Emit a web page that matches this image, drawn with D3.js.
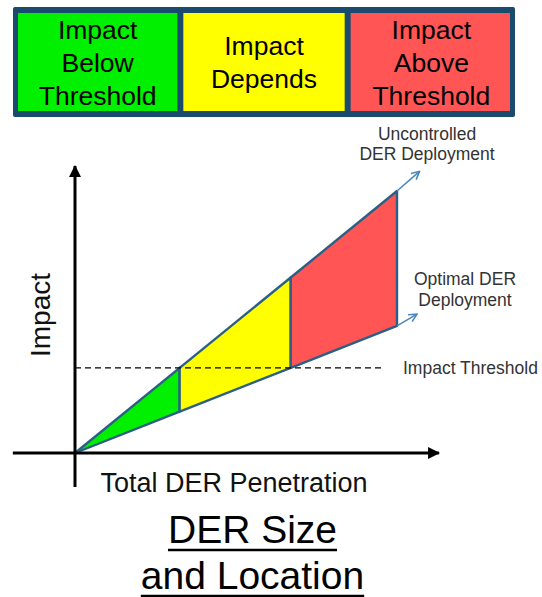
<!DOCTYPE html>
<html>
<head>
<meta charset="utf-8">
<script src="https://cdn.jsdelivr.net/npm/d3@7/dist/d3.min.js"></script>
<style>
  html, body { margin: 0; padding: 0; background: #fff; }
  svg { display: block; font-family: "Liberation Sans", Arial, sans-serif; }
</style>
</head>
<body>
<svg id="chart" width="542" height="597"></svg>
<script>
// Zone legend across the top
const zoneLabels = [
  ["Impact", "Below", "Threshold"],
  ["Impact", "Depends"],
  ["Impact", "Above", "Threshold"]
];
const zoneColors = ["#00f000", "#ffff00", "#ff5555"];

// Penetration break points (start, threshold crossing of each curve, end)
const penetration = [0, 3.25, 6.7, 10];
const uncontrolledImpact = [0, 3.25, 6.7, 10];
const optimalImpact = [0, 1.58, 3.25, 4.85];
const impactThreshold = 3.25;
const thresholdExtent = [0, 9.6];

// Arrow tips where each deployment curve continues
const uncontrolledTip = [10.7, 10.75];
const optimalTip = [10.62, 5.3];

// Axis extents in data units
const xAxisExtent = [-1.93, 11.3];
const yAxisExtent = [-1.3, 10.95];

const curveLabels = {
  uncontrolled: ["Uncontrolled", "DER Deployment"],
  optimal: ["Optimal DER", "Deployment"],
  threshold: "Impact Threshold"
};
const axisTitles = { x: "Total DER Penetration", y: "Impact" };
const titleLines = ["DER Size", "and Location"];

const svg = d3.select("#chart");
const edgeColor = "#2b5f86";
const arrowColor = "#4a88bf";
const borderColor = "#1a4a6c";

// ---- legend boxes ----
const legend = svg.append("g");
legend.append("rect").attr("x", 13).attr("y", 7).attr("width", 502).attr("height", 110)
  .attr("fill", borderColor).attr("rx", 2);
const boxX = d3.scaleBand().domain(d3.range(zoneLabels.length)).range([13, 515]).paddingInner(0).paddingOuter(0);
const boxG = legend.selectAll("g.box").data(zoneLabels).join("g").attr("class", "box");
boxG.append("rect")
  .attr("x", (d, i) => boxX(i) + (i === 0 ? 5 : 3))
  .attr("y", 13)
  .attr("width", (d, i) => boxX.bandwidth() - (i === 0 ? 8 : (i === 2 ? 8 : 6)))
  .attr("height", 98)
  .attr("fill", (d, i) => zoneColors[i]);
boxG.each(function(lines, i) {
  const g = d3.select(this);
  const cx = boxX(i) + boxX.bandwidth() / 2 + (i === 0 ? 1 : 0);
  const lh = 33;
  const first = lines.length === 3 ? 39 : 55;
  lines.forEach((t, k) => {
    g.append("text").attr("x", cx).attr("y", first + k * lh)
      .attr("text-anchor", "middle").attr("font-size", 26.5).attr("fill", "#000").text(t);
  });
});

// ---- scales ----
const x = d3.scaleLinear().domain([0, 10]).range([75, 397]);
const y = d3.scaleLinear().domain([0, 10]).range([453, 191]);

const defs = svg.append("defs");
defs.append("marker").attr("id", "axisHead").attr("viewBox", "0 0 10 10")
  .attr("refX", 9).attr("refY", 5).attr("markerWidth", 4.4).attr("markerHeight", 4)
  .attr("orient", "auto").attr("markerUnits", "strokeWidth")
  .append("path").attr("d", "M0,0L10,5L0,10Z").attr("fill", "#000");
defs.append("marker").attr("id", "openHead").attr("viewBox", "0 0 10 10")
  .attr("refX", 9).attr("refY", 5).attr("markerWidth", 10).attr("markerHeight", 10)
  .attr("orient", "auto").attr("markerUnits", "userSpaceOnUse")
  .append("path").attr("d", "M1,1L9,5L1,9").attr("fill", "none")
  .attr("stroke", arrowColor).attr("stroke-width", 1.6);

// ---- zones between the two deployment curves ----
const zones = d3.range(penetration.length - 1).map(i => [
  [penetration[i], uncontrolledImpact[i]],
  [penetration[i + 1], uncontrolledImpact[i + 1]],
  [penetration[i + 1], optimalImpact[i + 1]],
  [penetration[i], optimalImpact[i]]
]);
const poly = d3.line().x(d => x(d[0])).y(d => y(d[1]));
svg.append("g").selectAll("path").data(zones).join("path")
  .attr("d", d => poly(d) + "Z")
  .attr("fill", (d, i) => zoneColors[i])
  .attr("stroke", edgeColor).attr("stroke-width", 2.4).attr("stroke-linejoin", "round");

// continuation arrows
svg.append("line")
  .attr("x1", x(penetration[3])).attr("y1", y(uncontrolledImpact[3]))
  .attr("x2", x(uncontrolledTip[0])).attr("y2", y(uncontrolledTip[1]))
  .attr("stroke", arrowColor).attr("stroke-width", 1.6).attr("marker-end", "url(#openHead)");
svg.append("line")
  .attr("x1", x(penetration[3])).attr("y1", y(optimalImpact[3]))
  .attr("x2", x(optimalTip[0])).attr("y2", y(optimalTip[1]))
  .attr("stroke", arrowColor).attr("stroke-width", 1.6).attr("marker-end", "url(#openHead)");

// threshold line
svg.append("line")
  .attr("x1", x(thresholdExtent[0])).attr("x2", x(thresholdExtent[1]))
  .attr("y1", y(impactThreshold)).attr("y2", y(impactThreshold))
  .attr("stroke", "#000").attr("stroke-width", 1.4).attr("stroke-dasharray", "6,4");

// ---- axes ----
svg.append("line")
  .attr("x1", x(xAxisExtent[0])).attr("x2", x(xAxisExtent[1]))
  .attr("y1", y(0)).attr("y2", y(0))
  .attr("stroke", "#000").attr("stroke-width", 3).attr("marker-end", "url(#axisHead)");
svg.append("line")
  .attr("x1", x(0)).attr("x2", x(0))
  .attr("y1", y(yAxisExtent[0])).attr("y2", y(yAxisExtent[1]))
  .attr("stroke", "#000").attr("stroke-width", 3).attr("marker-end", "url(#axisHead)");

// ---- labels ----
const lab = svg.append("g").attr("fill", "#333").attr("font-size", 17.5).attr("text-anchor", "middle");
curveLabels.uncontrolled.forEach((t, k) =>
  lab.append("text").attr("x", 427).attr("y", 140 + k * 20).text(t));
curveLabels.optimal.forEach((t, k) =>
  lab.append("text").attr("x", 465).attr("y", 285 + k * 21).text(t));
lab.append("text").attr("x", 403).attr("y", y(impactThreshold) + 6).attr("text-anchor", "start")
  .text(curveLabels.threshold);

svg.append("text").attr("x", 234).attr("y", 492).attr("text-anchor", "middle")
  .attr("font-size", 27).attr("fill", "#111").text(axisTitles.x);
svg.append("text").attr("transform", "translate(50,315) rotate(-90)").attr("text-anchor", "middle")
  .attr("font-size", 28).attr("fill", "#111").text(axisTitles.y);

// ---- underlined title ----
const title = svg.append("g");
titleLines.forEach((t, k) => {
  const by = 543 + k * 46;
  const txt = title.append("text").attr("x", 252.5).attr("y", by).attr("text-anchor", "middle")
    .attr("font-size", 39).attr("fill", "#000").text(t);
  const w = txt.node().getComputedTextLength();
  title.append("line").attr("x1", 252.5 - w / 2).attr("x2", 252.5 + w / 2)
    .attr("y1", by + 7).attr("y2", by + 7).attr("stroke", "#000").attr("stroke-width", 2.5);
});
</script>
</body>
</html>
